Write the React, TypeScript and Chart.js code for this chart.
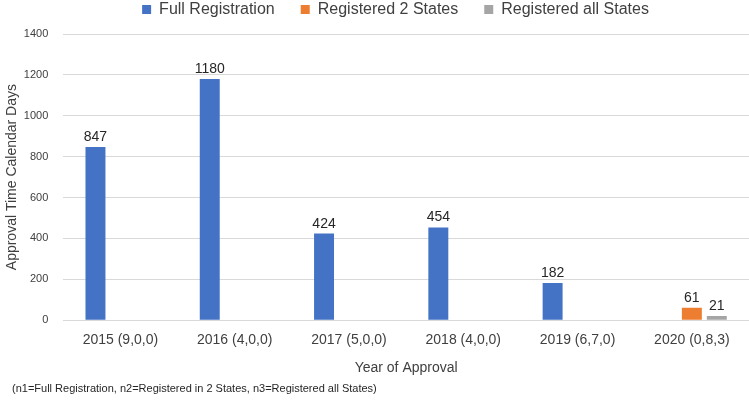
import React, { useEffect, useRef } from "react";
import { Chart, registerables } from "chart.js";

Chart.register(...registerables);

const categories = [
  "2015 (9,0,0)",
  "2016 (4,0,0)",
  "2017 (5,0,0)",
  "2018 (4,0,0)",
  "2019 (6,7,0)",
  "2020 (0,8,3)",
];
const fullRegistration: (number | null)[] = [847, 1180, 424, 454, 182, null];
const registered2States: (number | null)[] = [null, null, null, null, null, 61];
const registeredAllStates: (number | null)[] = [null, null, null, null, null, 21];
const seriesNames = ["Full Registration", "Registered 2 States", "Registered all States"];
const seriesColors = ["#4472C4", "#ED7D31", "#A5A5A5"];
const yMin = 0;
const yMax = 1400;
const yStep = 200;
const yTitle = "Approval Time Calendar Days";
const xTitle = "Year of Approval";
const footnote = "(n1=Full Registration, n2=Registered in 2 States, n3=Registered all States)";

const FONT = "'Liberation Sans', Arial, sans-serif";
const TEXT = "#404040";

const dataLabels = {
  id: "dataLabels",
  afterDatasetsDraw(chart: any) {
    const ctx = chart.ctx;
    ctx.save();
    ctx.font = `14px ${FONT}`;
    ctx.fillStyle = "#262626";
    ctx.textAlign = "center";
    ctx.textBaseline = "alphabetic";
    chart.data.datasets.forEach((ds: any, i: number) => {
      const meta = chart.getDatasetMeta(i);
      meta.data.forEach((bar: any, j: number) => {
        const v = ds.data[j];
        if (v === null || v === undefined) return;
        ctx.fillText(String(v), bar.x, bar.y - 6);
      });
    });
    ctx.restore();
  },
};

const layoutTweaks = {
  id: "layoutTweaks",
  afterLayout(chart: any) {
    if (chart.legend) {
      chart.legend.left = 42;
      chart.legend.top = -24.5;
    }
    if (chart.titleBlock) {
      chart.titleBlock.left = 12;
    }
  },
};

export default function App() {
  const ref = useRef<HTMLCanvasElement | null>(null);
  useEffect(() => {
    if (!ref.current) return;
    const chart = new Chart(ref.current, {
      type: "bar",
      data: {
        labels: categories,
        datasets: [
          { label: seriesNames[0], data: fullRegistration, backgroundColor: seriesColors[0], borderWidth: 0 },
          { label: seriesNames[1], data: registered2States, backgroundColor: seriesColors[1], borderWidth: 0 },
          { label: seriesNames[2], data: registeredAllStates, backgroundColor: seriesColors[2], borderWidth: 0 },
        ],
      },
      options: {
        animation: false,
        responsive: false,
        maintainAspectRatio: false,
        devicePixelRatio: 1,
        layout: { padding: 0 },
        datasets: { bar: { barPercentage: 0.8, categoryPercentage: 0.655 } },
        scales: {
          x: {
            grid: { display: false, drawTicks: false },
            border: { display: false },
            ticks: { color: TEXT, font: { family: FONT, size: 14 }, padding: 12, maxRotation: 0 },
            title: {
              display: true,
              text: xTitle,
              color: TEXT,
              font: { family: FONT, size: 14 },
              padding: { top: -1.5, bottom: 4.5 },
            },
          },
          y: {
            min: yMin,
            max: yMax,
            ticks: {
              stepSize: yStep,
              color: TEXT,
              font: { family: FONT, size: 11 },
              padding: 15,
              callback: (v: any) => String(v),
            },
            grid: { color: "#D9D9D9", lineWidth: 1, drawTicks: false },
            border: { display: false },
            title: {
              display: true,
              text: yTitle,
              color: TEXT,
              font: { family: FONT, size: 14 },
              padding: { top: 4, bottom: -12 },
            },
          },
        },
        plugins: {
          legend: {
            display: true,
            position: "top",
            maxHeight: 34,
            labels: {
              boxWidth: 9,
              boxHeight: 9,
              padding: 26,
              color: TEXT,
              font: { family: FONT, size: 16 },
            },
          },
          title: {
            display: true,
            position: "bottom",
            align: "start",
            text: footnote,
            color: "#262626",
            font: { family: FONT, size: 11, weight: "normal" },
            padding: { top: 2, bottom: 6 },
          },
          tooltip: { enabled: false },
        },
      },
      plugins: [dataLabels, layoutTweaks],
    });
    return () => chart.destroy();
  }, []);
  return (
    <div style={{ position: "absolute", left: 0, top: 0, width: 749, height: 402, background: "#fff" }}>
      <canvas ref={ref} width={749} height={402} style={{ width: 749, height: 402, display: "block" }} />
    </div>
  );
}
